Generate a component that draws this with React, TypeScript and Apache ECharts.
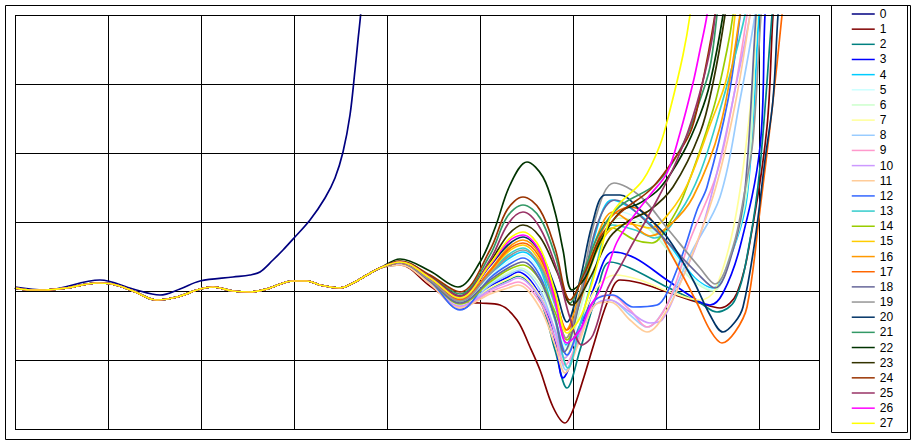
import React, { useEffect, useRef } from "react";
import * as echarts from "echarts";

// x: time units (0..804), y: signal units (-138..276); grid every 93 / 69
const seriesNames = ["0","1","2","3","4","5","6","7","8","9","10","11","12","13","14","15","16","17","18","19","20","21","22","23","24","25","26","27"];
const seriesColors = ["#000080","#800000","#008080","#0000FF","#00CCFF","#CCFFFF","#CCFFCC","#FFFF99","#99CCFF","#FF99CC","#CC99FF","#FFCC99","#3366FF","#33CCCC","#99CC00","#FFCC00","#FF9900","#FF6600","#666699","#969696","#003366","#339966","#003300","#333300","#993300","#993366","#FF00FF","#FFFF00"];

// shared early part of series 1..27
const common = [[0,3],[15,1],[30,1],[52,3],[82,8],[97,7],[118,0],[142,-9],[162,-6],[185,2],[198,4],[218,0],[235,-1],[252,2],[278,10],[292,10],[305,6],[325,3],[338,8],[352,16],[365,23]];

const s0 = [[0,4],[30,1],[85,11],[118,2],[145,-4],[165,2],[185,10],[218,14],[235,16],[245,19],[258,31],[268,41],[279,53],[295,71],[310,93],[320,113],[328,139],[335,176],[340,221],[343,251],[346,281],[348,321]];
const t1 = [[385,26],[415,5],[440,-10],[465,-12],[485,-14],[502,-29],[515,-56],[525,-79],[538,-116],[550,-132],[558,-119],[568,-89],[578,-56],[592,-12],[605,11],[625,8],[652,-1],[685,-12],[705,-17],[722,-2],[737,61],[752,164],[758,276],[762,321]];
const t2 = [[385,27],[415,8],[445,-16],[475,2],[493,11],[503,15],[525,-9],[540,-59],[552,-97],[565,-59],[580,-9],[595,29],[615,23],[652,4],[685,-12],[702,-21],[720,-9],[735,51],[745,124],[757,276],[761,321]];
const t3 = [[385,27],[415,9],[445,-18],[475,5],[493,14],[503,19],[525,-4],[540,-49],[548,-87],[563,-49],[580,6],[598,39],[620,33],[652,11],[685,-11],[695,-14],[708,-2],[725,44],[745,144],[750,276],[754,321]];
const t4 = [[385,28],[415,11],[445,-11],[475,16],[493,32],[508,39],[525,23],[540,-17],[551,-54],[565,-9],[580,56],[597,91],[625,76],[652,49],[680,13],[698,3],[715,33],[732,94],[744,276],[748,321]];
const t5 = [[385,28],[415,10],[445,-11],[475,15],[493,29],[508,36],[525,19],[540,-19],[551,-56],[565,-14],[582,46],[605,79],[640,59],[675,16],[698,1],[715,36],[732,104],[742,276],[747,321]];
const t6 = [[385,27],[415,9],[445,-13],[475,8],[493,18],[505,23],[525,6],[540,-29],[551,-59],[565,-19],[582,41],[605,73],[635,61],[675,13],[698,0],[715,33],[732,101],[742,276],[747,321]];
const t7 = [[385,27],[415,8],[445,-15],[475,3],[493,12],[503,16],[525,-5],[540,-39],[548,-69],[563,-39],[580,1],[600,16],[625,11],[655,-1],[685,-9],[700,1],[720,71],[735,181],[742,276],[747,321]];
const t8 = [[385,27],[415,9],[445,-17],[475,6],[493,16],[505,21],[525,1],[540,-41],[551,-79],[565,-44],[580,-14],[595,-9],[615,-24],[632,-36],[652,-14],[675,36],[705,94],[725,191],[740,276],[745,321]];
const t9 = [[385,27],[415,7],[445,-16],[475,-1],[493,6],[503,9],[525,-11],[540,-47],[550,-74],[563,-49],[580,-9],[595,-4],[615,-19],[632,-36],[652,-14],[675,51],[702,118],[718,191],[732,276],[737,321]];
const t10 = [[385,27],[415,8],[445,-15],[475,1],[493,9],[503,13],[525,-7],[540,-39],[550,-67],[563,-44],[580,-14],[595,-9],[615,-21],[635,-32],[647,-29],[662,1],[685,56],[705,131],[720,201],[735,276],[740,321]];
const t11 = [[385,26],[415,7],[445,-17],[475,-3],[493,3],[503,6],[525,-17],[540,-54],[550,-82],[563,-54],[580,-14],[595,-11],[615,-29],[632,-41],[652,-19],[675,31],[700,101],[720,186],[735,276],[740,321]];
const t12 = [[385,28],[415,10],[445,-19],[475,13],[493,26],[508,33],[525,15],[540,-27],[552,-64],[565,-34],[580,-9],[598,-4],[618,-16],[642,-14],[652,-2],[668,38],[682,81],[692,104],[713,191],[725,274],[730,321]];
const t13 = [[385,28],[415,11],[445,-10],[475,18],[493,36],[508,43],[525,23],[540,-29],[553,-77],[565,-34],[580,21],[597,66],[620,61],[640,53],[665,79],[685,118],[705,181],[730,276],[735,321]];
const t14 = [[385,28],[415,10],[445,-13],[475,9],[493,21],[508,26],[525,11],[540,-21],[552,-49],[565,-9],[580,41],[597,63],[620,51],[637,48],[653,66],[668,94],[698,181],[712,241],[718,276],[723,321]];
const t15 = [[385,28],[415,11],[445,-9],[475,19],[493,39],[508,46],[525,29],[540,-12],[551,-47],[565,-9],[580,36],[595,61],[615,67],[635,63],[655,79],[673,108],[695,166],[712,214],[720,276],[725,321]];
const t16 = [[385,28],[415,12],[445,-9],[475,21],[493,43],[508,51],[525,36],[540,-4],[551,-39],[565,-1],[580,49],[598,79],[615,69],[635,55],[655,66],[678,94],[705,164],[725,276],[730,321]];
const t17 = [[385,28],[415,12],[445,-9],[475,20],[493,41],[508,48],[525,33],[540,-6],[552,-39],[565,-11],[580,43],[595,73],[615,84],[635,73],[655,39],[682,-12],[695,-39],[707,-52],[720,-41],[732,-16],[745,81],[757,181],[767,276],[771,321]];
const t18 = [[385,28],[415,10],[445,-12],[475,11],[493,23],[508,29],[525,11],[540,-27],[549,-61],[565,-9],[582,66],[600,91],[635,66],[682,18],[700,3],[718,41],[730,101],[741,276],[745,321]];
const t19 = [[385,28],[415,11],[445,-10],[475,17],[493,34],[508,41],[525,26],[540,-12],[551,-47],[565,-4],[580,71],[599,108],[625,95],[652,63],[685,23],[700,7],[718,44],[730,101],[738,151],[746,276],[750,321]];
const t20 = [[385,29],[415,13],[445,-7],[475,25],[493,46],[508,54],[525,39],[540,4],[552,-31],[565,11],[577,66],[590,96],[605,96],[625,81],[652,54],[678,11],[695,-24],[708,-41],[720,-31],[728,-16],[740,51],[750,131],[758,191],[763,276],[767,321]];
const t21 = [[385,30],[415,15],[445,-3],[475,36],[492,74],[508,86],[525,73],[540,36],[555,-12],[570,23],[585,59],[605,85],[642,108],[670,151],[685,191],[695,224],[702,276],[707,321]];
const t22 = [[385,32],[415,20],[443,4],[465,29],[480,63],[495,106],[512,129],[528,114],[540,79],[548,41],[557,1],[570,13],[585,49],[605,79],[625,88],[645,103],[668,138],[685,176],[695,208],[708,276],[713,321]];
const t23 = [[385,29],[415,14],[445,-5],[475,29],[493,56],[508,66],[525,54],[542,19],[557,-14],[575,13],[595,54],[615,71],[635,81],[658,104],[685,158],[698,208],[710,276],[715,321]];
const t24 = [[385,30],[415,16],[445,-1],[475,41],[492,81],[508,94],[525,81],[540,43],[555,-9],[570,19],[585,53],[605,78],[635,101],[655,126],[675,158],[685,196],[700,276],[705,321]];
const t25 = [[385,29],[415,14],[445,-5],[475,31],[493,67],[508,79],[525,63],[542,21],[555,-27],[567,-54],[578,-44],[592,1],[605,24],[618,48],[635,78],[662,131],[682,188],[698,258],[702,321]];
const t26 = [[385,29],[415,13],[445,-7],[475,26],[493,49],[508,56],[525,39],[540,-9],[552,-52],[565,-39],[575,-16],[585,1],[592,21],[602,49],[618,74],[635,96],[652,118],[665,158],[678,208],[685,241],[692,276],[697,321]];
const t27 = [[385,29],[415,13],[445,-7],[475,27],[493,51],[508,59],[525,43],[540,-1],[552,-42],[565,-27],[575,1],[585,36],[598,79],[628,111],[645,146],[655,181],[668,236],[675,276],[680,321]];

const tails = [t1,t2,t3,t4,t5,t6,t7,t8,t9,t10,t11,t12,t13,t14,t15,t16,t17,t18,t19,t20,t21,t22,t23,t24,t25,t26,t27];

export default function App() {
  const ref = useRef<HTMLDivElement>(null);
  useEffect(() => {
    if (!ref.current) return;
    const chart = echarts.init(ref.current, null, { renderer: "svg" });
    const allData = [s0, ...tails.map((t) => [...common, ...t])];
    const series = allData.map((d, i) => ({
      name: seriesNames[i],
      type: "line",
      data: d,
      symbol: "none",
      smooth: 0.35,
      clip: true,
      lineStyle: { color: seriesColors[i], width: 1.7 },
      itemStyle: { color: seriesColors[i] },
    }));
    chart.setOption({
      animation: false,
      backgroundColor: "#ffffff",
      grid: { left: 15, top: 15, width: 804, height: 414, show: false },
      xAxis: {
        type: "value", min: 0, max: 804, interval: 93,
        axisLine: { show: false }, axisTick: { show: false }, axisLabel: { show: false },
        splitLine: { show: true, showMinLine: true, showMaxLine: true, lineStyle: { color: "#000", width: 1 } },
      },
      yAxis: {
        type: "value", min: -138, max: 276, interval: 69,
        axisLine: { show: false }, axisTick: { show: false }, axisLabel: { show: false },
        splitLine: { show: true, showMinLine: true, showMaxLine: true, lineStyle: { color: "#000", width: 1 } },
      },
      legend: {
        orient: "vertical",
        left: 851,
        top: 8,
        padding: 0,
        itemWidth: 23,
        itemHeight: 12,
        itemGap: 3.16,
        selectedMode: false,
        itemStyle: { opacity: 0 },
        lineStyle: { width: 1.5 },
        textStyle: { fontFamily: "Liberation Sans, Arial, sans-serif", fontSize: 12, color: "#000" },
        data: seriesNames,
      },
      graphic: [
        { type: "rect", shape: { x: 5.5, y: 5.5, width: 905, height: 434 }, style: { fill: "none", stroke: "#000", lineWidth: 1 }, silent: true },
        { type: "rect", shape: { x: 831.5, y: 5.5, width: 76, height: 427 }, style: { fill: "none", stroke: "#000", lineWidth: 1 }, silent: true },
        { type: "rect", shape: { x: 15.5, y: 15.5, width: 804, height: 414 }, style: { fill: "none", stroke: "#000", lineWidth: 1 }, silent: true, z: 100 },
      ],
      series,
    });
    return () => chart.dispose();
  }, []);
  return <div ref={ref} style={{ position: "fixed", left: 0, top: 0, width: 917, height: 444 }} />;
}
